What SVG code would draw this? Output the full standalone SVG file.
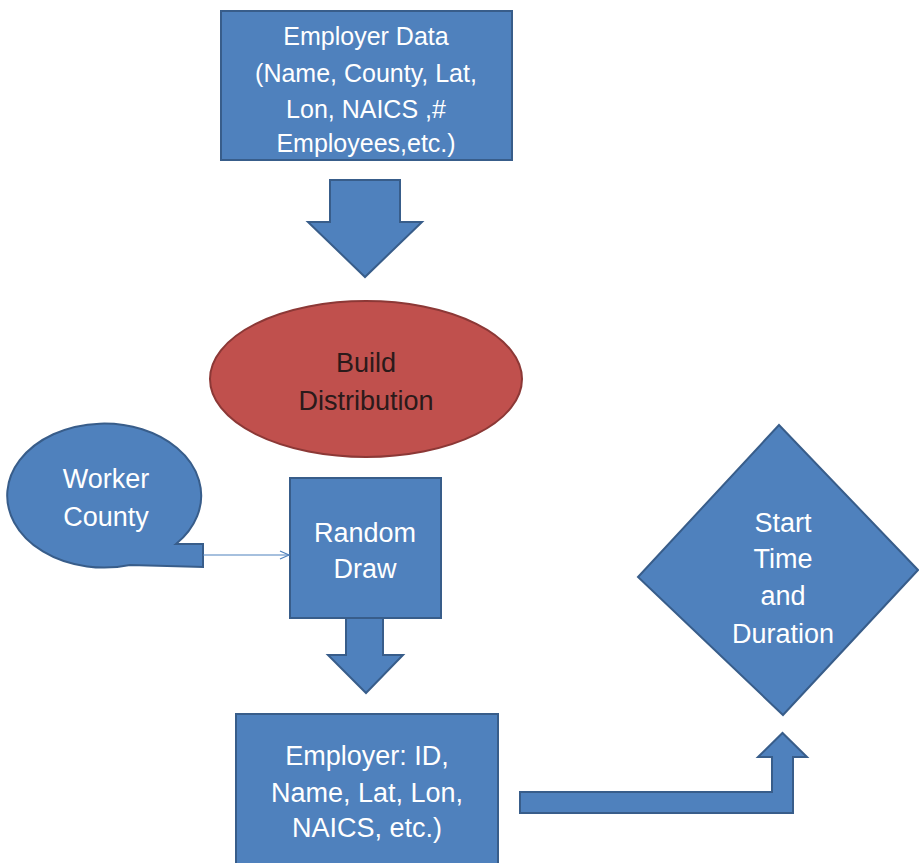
<svg xmlns="http://www.w3.org/2000/svg" width="919" height="863" viewBox="0 0 919 863">
<defs>
<style>
.blue{fill:#4F81BD;stroke:#385D8A;stroke-width:2}
.red{fill:#C0504D;stroke:#8C3836;stroke-width:2}
.t{font-family:"Liberation Sans",Arial,sans-serif;font-size:27px;text-anchor:middle;fill:#FFFFFF}
.s{font-size:25px}
.dark{fill:#2B1A1A}
.thin{stroke:#4F81BD;stroke-width:1.2;fill:none}
</style>
<marker id="open" markerWidth="12" markerHeight="12" refX="10" refY="5" orient="auto" markerUnits="userSpaceOnUse">
<path d="M1,1 L10,5 L1,9" fill="none" stroke="#4F81BD" stroke-width="1.2"/>
</marker>
</defs>
<rect width="919" height="863" fill="#FFFFFF"/>
<g id="employer-data">
<rect class="blue" x="221" y="11" width="291" height="149"/>
<text class="t s" x="366" y="45">Employer Data</text>
<text class="t s" x="366" y="82">(Name, County, Lat,</text>
<text class="t s" x="366" y="118">Lon, NAICS ,#</text>
<text class="t s" x="366" y="152">Employees,etc.)</text>
</g>
<g id="build-distribution">
<ellipse class="red" cx="366" cy="379" rx="156" ry="78"/>
<text class="t dark" x="366" y="372">Build</text>
<text class="t dark" x="366" y="410">Distribution</text>
</g>
<g id="worker-county">
<path class="blue" d="M176,544 L203,544 L203,567 L130,565 A97,72 0 1 1 176,544 Z"/>
<text class="t" x="106" y="488">Worker</text>
<text class="t" x="106" y="526">County</text>
</g>
<g id="random-draw">
<rect class="blue" x="290" y="478" width="151" height="140"/>
<text class="t" x="365" y="542">Random</text>
<text class="t" x="365" y="578">Draw</text>
</g>
<g id="employer">
<rect class="blue" x="236" y="714" width="262" height="160"/>
<text class="t" x="367" y="765">Employer: ID,</text>
<text class="t" x="367" y="802">Name, Lat, Lon,</text>
<text class="t" x="367" y="837">NAICS, etc.)</text>
</g>
<g id="start-time">
<polygon class="blue" points="779,425 918,570 783,715 638,577"/>
<text class="t" x="783" y="532">Start</text>
<text class="t" x="783" y="568">Time</text>
<text class="t" x="783" y="605">and</text>
<text class="t" x="783" y="643">Duration</text>
</g>
<g id="connectors">
<path class="blue" d="M330,180 L400,180 L400,222 L422,222 L365,277 L308,222 L330,222 Z"/>
<path class="blue" d="M346,618 L383,618 L383,655 L403,655 L366,693 L328,655 L346,655 Z"/>
<path class="blue" d="M520,792 L772,792 L772,757 L758,757 L782.5,733 L807,757 L793,757 L793,813 L520,813 Z"/>
<line class="thin" x1="203" y1="555" x2="289" y2="555" marker-end="url(#open)"/>
</g>
</svg>
